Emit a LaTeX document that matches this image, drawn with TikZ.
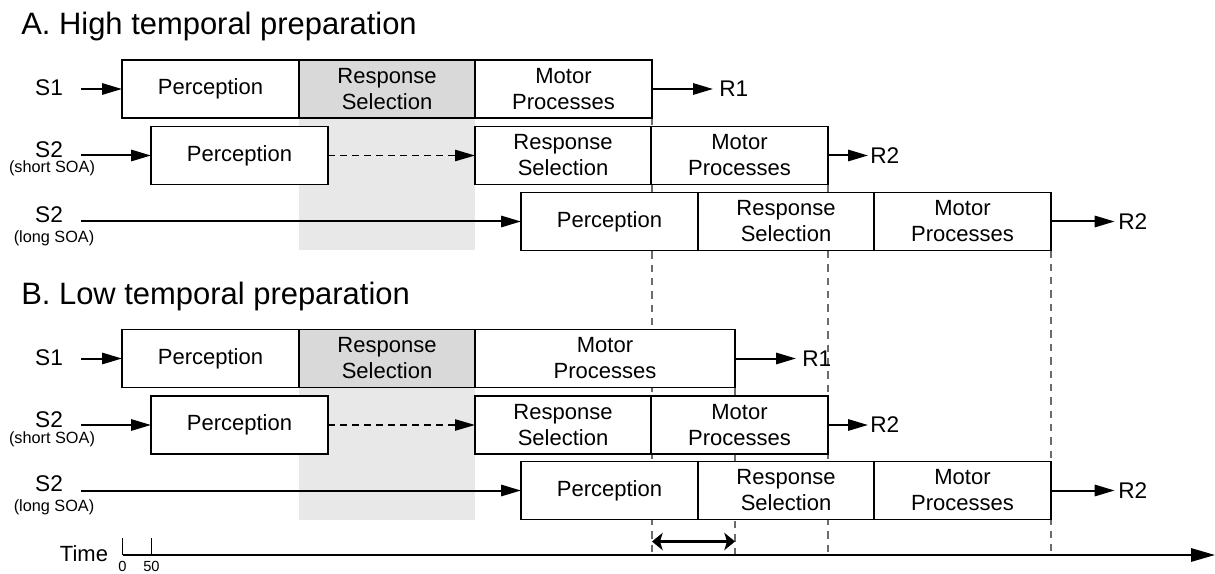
\documentclass[tikz,border=0pt]{standalone}
\usepackage{fontspec}
\setmainfont{Liberation Sans}
\usetikzlibrary{arrows.meta,backgrounds}

\definecolor{selgray}{gray}{0.85}
\definecolor{bandgray}{gray}{0.91}
\definecolor{guidegray}{gray}{0.42}

\newcommand\stagefont{\fontsize{16.5}{19.5}\selectfont}
\newcommand\labelfont{\fontsize{17}{20}\selectfont}
\newcommand\subfont{\fontsize{12.2}{14}\selectfont}
\newcommand\titlefont{\fontsize{23.2}{27}\selectfont}
\newcommand\tickfont{\fontsize{11}{13}\selectfont}

% one stage box spanning x = #3 .. #4 (pixels), centred at height #5
\newcommand\stage[6][]{%
  \node[stagebox,#1,minimum width={(#4-#3)*0.75pt}] (#2) at ({(#3+#4)/2},#5) {#6};}

\begin{document}
\begin{tikzpicture}[x=0.75pt,y=-0.75pt,
  stagebox/.style={draw,line width=1.4pt,fill=white,inner sep=0pt,outer sep=0pt,
    minimum height=43.5pt,align=center,font=\stagefont},
  lbl/.style={inner sep=0pt,font=\labelfont},
  sublbl/.style={inner sep=0pt,font=\subfont},
  ttl/.style={inner sep=0pt,font=\titlefont,anchor=base west},
  arr/.style={line width=1.5pt,-{Triangle[length=15pt,width=8.5pt]}},
  darr/.style={line width=1pt,dash pattern=on 5pt off 4pt,
    -{Triangle[length=15pt,width=8.5pt]}},
  guide/.style={draw=guidegray,line width=0.9pt,dash pattern=on 5.5pt off 4.5pt},
  axis/.style={line width=1.5pt,-{Triangle[length=18pt,width=10pt]}},
  span/.style={line width=2.3pt,{Stealth[length=8pt,width=13pt,inset=2pt]}-{Stealth[length=8pt,width=13pt,inset=2pt]}}
]
\useasboundingbox (0,0) rectangle (1215,574);

% ---------- A. High temporal preparation ----------
\node[ttl] (titleA) at (21,35) {A. High temporal preparation};

\stage{a1p}{122}{299}{89}{Perception}
\stage[fill=selgray]{a1r}{299}{475}{89}{Response\\Selection}
\stage{a1m}{475}{652}{89}{Motor\\Processes}

\stage{a2p}{151}{328}{155.5}{Perception}
\stage{a2r}{475}{651}{155.5}{Response\\Selection}
\stage{a2m}{651}{828}{155.5}{Motor\\Processes}

\stage{a3p}{521}{698}{221.5}{Perception}
\stage{a3r}{698}{874}{221.5}{Response\\Selection}
\stage{a3m}{874}{1051}{221.5}{Motor\\Processes}

\node[lbl,anchor=base] (sA1) at (49,96) {S1};
\node[lbl,anchor=base] (sA2) at (49,157.5) {S2};
\node[sublbl,anchor=base] (sA2n) at (52,173) {(short SOA)};
\node[lbl,anchor=base] (sA3) at (49,222.5) {S2};
\node[sublbl,anchor=base] (sA3n) at (54,242.5) {(long SOA)};

\coordinate (inA1) at (81,89);
\coordinate (inA2) at (81,155.5);
\coordinate (inA3) at (81,221.5);

\node[lbl,anchor=west] (rA1) at (719,89) {R1};
\node[lbl,anchor=west] (rA2) at (870,155.5) {R2};
\node[lbl,anchor=west] (rA3) at (1118,221.5) {R2};

\draw[arr] (inA1) -- (a1p.west);
\draw[arr] (inA2) -- (a2p.west);
\draw[arr] (inA3) -- (a3p.west);
\draw[darr] (a2p.east) -- (a2r.west);
\draw[arr,shorten >=4.5pt] (a1m.east) -- (rA1.west);
\draw[arr,shorten >=1.5pt] (a2m.east) -- (rA2.west);
\draw[arr,shorten >=2.5pt] (a3m.east) -- (rA3.west);

% ---------- B. Low temporal preparation ----------
\node[ttl] (titleB) at (21,305) {B. Low temporal preparation};

\stage{b1p}{122}{299}{358.5}{Perception}
\stage[fill=selgray]{b1r}{299}{475}{358.5}{Response\\Selection}
\stage{b1m}{475}{735}{358.5}{Motor\\Processes}

\stage{b2p}{151}{328}{425}{Perception}
\stage{b2r}{475}{651}{425}{Response\\Selection}
\stage{b2m}{651}{828}{425}{Motor\\Processes}

\stage{b3p}{521}{698}{490.5}{Perception}
\stage{b3r}{698}{874}{490.5}{Response\\Selection}
\stage{b3m}{874}{1051}{490.5}{Motor\\Processes}

\node[lbl,anchor=base] (sB1) at (49,365.5) {S1};
\node[lbl,anchor=base] (sB2) at (49,427) {S2};
\node[sublbl,anchor=base] (sB2n) at (52,443) {(short SOA)};
\node[lbl,anchor=base] (sB3) at (49,491.5) {S2};
\node[sublbl,anchor=base] (sB3n) at (54,511.5) {(long SOA)};

\coordinate (inB1) at (81,358.5);
\coordinate (inB2) at (81,425);
\coordinate (inB3) at (81,490.5);

\node[lbl,anchor=west] (rB1) at (802,358.5) {R1};
\node[lbl,anchor=west] (rB2) at (870,425) {R2};
\node[lbl,anchor=west] (rB3) at (1118,490.5) {R2};

\draw[arr] (inB1) -- (b1p.west);
\draw[arr] (inB2) -- (b2p.west);
\draw[arr] (inB3) -- (b3p.west);
\draw[darr] (b2p.east) -- (b2r.west);
\draw[arr,shorten >=4.5pt] (b1m.east) -- (rB1.west);
\draw[arr,shorten >=1.5pt] (b2m.east) -- (rB2.west);
\draw[arr,shorten >=2.5pt] (b3m.east) -- (rB3.west);

% ---------- time axis ----------
\coordinate (t0) at (122.5,555);
\coordinate (t50) at (151.5,555);
\coordinate (tend) at (1215,555);
\coordinate (spanrow) at (0,541.5);

\draw[line width=1.4pt] (t0) -- ++(0,-17);
\draw[line width=1.4pt] (t50) -- ++(0,-17);
\draw[axis] (t0) -- (tend);
\node[lbl,anchor=base,font=\fontsize{16.5}{19}\selectfont] (timelbl) at (84,561.5) {Time};
\node[inner sep=0pt,font=\tickfont,anchor=base] (tick0) at (122.5,571.5) {0};
\node[inner sep=0pt,font=\tickfont,anchor=base] (tick50) at (151.5,571.5) {50};

\draw[span] (a1m.south east |- spanrow) -- (b1m.south east |- spanrow);

% ---------- shading and guide lines behind the boxes ----------
\begin{scope}[on background layer]
  \fill[bandgray] (a1r.south west) rectangle (a1r.south east |- a3p.south);
  \fill[bandgray] (b1r.south west) rectangle (b1r.south east |- b3p.south);
  \draw[guide] (a1m.south east) -- (a1m.south east |- t0);
  \draw[guide] (a2m.south east) -- (a2m.south east |- t0);
  \draw[guide] (a3m.south east) -- (a3m.south east |- t0);
  \draw[guide] (b1m.south east) -- (b1m.south east |- t0);
\end{scope}
\end{tikzpicture}
\end{document}
